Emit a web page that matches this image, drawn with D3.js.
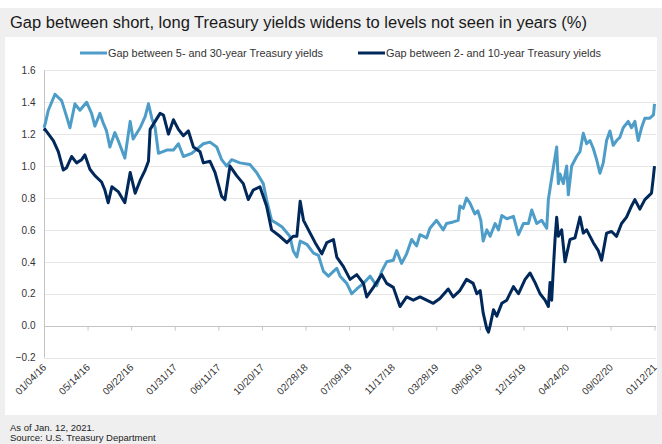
<!DOCTYPE html>
<html>
<head>
<meta charset="utf-8">
<script src="https://cdn.jsdelivr.net/npm/d3@7"></script>
<style>
  body { margin: 0; background: #fff; }
  svg { display: block; font-family: "Liberation Sans", Arial, sans-serif; }
</style>
</head>
<body>
<div id="chart"></div>
<script>
'use strict';

// gap between 5- and 30-year yields (light blue)
const longDates = ['2016-01-04', '2016-01-07', '2016-01-17', '2016-02-06', '2016-02-26', '2016-03-12', '2016-03-22', '2016-04-06', '2016-04-21', '2016-05-11', '2016-05-26', '2016-06-05', '2016-06-20', '2016-06-30', '2016-07-10', '2016-07-20', '2016-08-04', '2016-08-14', '2016-09-03', '2016-09-19', '2016-09-28', '2016-10-19', '2016-11-03', '2016-11-13', '2016-11-23', '2016-12-03', '2016-12-13', '2017-01-07', '2017-01-27', '2017-02-11', '2017-02-26', '2017-03-23', '2017-04-27', '2017-05-17', '2017-06-06', '2017-06-21', '2017-07-06', '2017-07-21', '2017-08-15', '2017-09-14', '2017-10-04', '2017-10-24', '2017-11-03', '2017-11-18', '2017-12-04', '2017-12-19', '2018-01-12', '2018-01-22', '2018-02-02', '2018-02-12', '2018-03-04', '2018-03-24', '2018-04-08', '2018-04-23', '2018-05-08', '2018-05-23', '2018-06-02', '2018-06-12', '2018-07-02', '2018-07-17', '2018-08-01', '2018-08-21', '2018-09-10', '2018-09-30', '2018-10-15', '2018-10-30', '2018-11-19', '2018-11-29', '2018-12-14', '2018-12-29', '2019-01-13', '2019-01-28', '2019-02-07', '2019-02-27', '2019-03-09', '2019-03-29', '2019-04-18', '2019-04-28', '2019-05-18', '2019-06-02', '2019-06-07', '2019-06-17', '2019-06-27', '2019-07-07', '2019-07-22', '2019-07-31', '2019-08-09', '2019-08-16', '2019-08-27', '2019-09-06', '2019-09-21', '2019-10-01', '2019-10-11', '2019-10-26', '2019-11-15', '2019-11-30', '2019-12-15', '2019-12-30', '2020-01-09', '2020-01-24', '2020-02-08', '2020-02-23', '2020-02-28', '2020-03-09', '2020-03-24', '2020-03-29', '2020-04-03', '2020-04-13', '2020-04-23', '2020-04-28', '2020-05-08', '2020-05-23', '2020-06-02', '2020-06-12', '2020-06-22', '2020-07-02', '2020-07-12', '2020-07-22', '2020-08-01', '2020-08-11', '2020-08-21', '2020-08-31', '2020-09-10', '2020-09-20', '2020-09-30', '2020-10-10', '2020-10-25', '2020-11-04', '2020-11-14', '2020-11-24', '2020-12-04', '2020-12-14', '2020-12-29', '2021-01-09', '2021-01-12'];
const longValues = [1.24, 1.26, 1.35, 1.45, 1.41, 1.31, 1.24, 1.39, 1.35, 1.40, 1.33, 1.25, 1.33, 1.27, 1.22, 1.12, 1.21, 1.16, 1.05, 1.28, 1.17, 1.24, 1.31, 1.39, 1.30, 1.24, 1.08, 1.10, 1.10, 1.14, 1.06, 1.08, 1.14, 1.15, 1.12, 1.04, 1.00, 1.04, 1.02, 1.01, 0.96, 0.89, 0.79, 0.66, 0.64, 0.62, 0.56, 0.47, 0.43, 0.53, 0.51, 0.455, 0.44, 0.34, 0.31, 0.34, 0.36, 0.31, 0.265, 0.20, 0.23, 0.265, 0.31, 0.25, 0.34, 0.40, 0.41, 0.47, 0.39, 0.45, 0.54, 0.50, 0.57, 0.55, 0.61, 0.66, 0.60, 0.64, 0.65, 0.66, 0.75, 0.735, 0.80, 0.77, 0.70, 0.72, 0.66, 0.53, 0.60, 0.56, 0.64, 0.60, 0.69, 0.67, 0.685, 0.57, 0.64, 0.64, 0.725, 0.64, 0.66, 0.61, 0.79, 0.925, 1.12, 0.89, 0.95, 0.89, 1.00, 0.82, 1.00, 1.06, 1.09, 1.205, 1.14, 1.16, 1.11, 1.04, 0.955, 1.02, 1.16, 1.22, 1.13, 1.16, 1.18, 1.24, 1.28, 1.24, 1.28, 1.16, 1.24, 1.30, 1.30, 1.32, 1.39];

// gap between 2- and 10-year yields (navy)
const shortDates = ['2016-01-04', '2016-01-07', '2016-02-01', '2016-02-16', '2016-03-02', '2016-03-12', '2016-03-27', '2016-04-11', '2016-04-26', '2016-05-06', '2016-05-21', '2016-06-05', '2016-06-25', '2016-07-05', '2016-07-15', '2016-07-26', '2016-08-14', '2016-09-03', '2016-09-19', '2016-10-04', '2016-10-19', '2016-11-03', '2016-11-13', '2016-11-18', '2016-12-03', '2016-12-18', '2016-12-28', '2017-01-12', '2017-01-27', '2017-02-11', '2017-02-26', '2017-03-13', '2017-03-28', '2017-04-17', '2017-04-27', '2017-05-17', '2017-06-01', '2017-06-21', '2017-07-01', '2017-07-16', '2017-08-05', '2017-08-25', '2017-09-09', '2017-09-24', '2017-10-14', '2017-11-03', '2017-11-18', '2017-12-13', '2018-01-03', '2018-01-22', '2018-02-02', '2018-02-12', '2018-02-22', '2018-03-14', '2018-03-29', '2018-04-18', '2018-05-03', '2018-05-23', '2018-06-02', '2018-06-22', '2018-07-12', '2018-08-01', '2018-08-21', '2018-08-31', '2018-09-20', '2018-10-15', '2018-10-30', '2018-11-19', '2018-12-09', '2018-12-29', '2019-01-18', '2019-02-07', '2019-02-27', '2019-03-19', '2019-04-08', '2019-05-03', '2019-05-18', '2019-06-07', '2019-06-27', '2019-07-17', '2019-07-28', '2019-08-07', '2019-08-16', '2019-08-27', '2019-09-01', '2019-09-06', '2019-09-16', '2019-09-26', '2019-10-11', '2019-10-26', '2019-11-15', '2019-11-30', '2019-12-20', '2020-01-04', '2020-01-19', '2020-02-03', '2020-02-18', '2020-02-28', '2020-03-04', '2020-03-09', '2020-03-14', '2020-03-19', '2020-03-24', '2020-03-29', '2020-04-08', '2020-04-18', '2020-05-03', '2020-05-18', '2020-06-02', '2020-06-12', '2020-06-22', '2020-07-12', '2020-07-27', '2020-08-06', '2020-08-21', '2020-09-05', '2020-09-20', '2020-10-05', '2020-10-20', '2020-11-04', '2020-11-14', '2020-11-29', '2020-12-14', '2020-12-24', '2021-01-03', '2021-01-08', '2021-01-12'];
const shortValues = [1.22, 1.23, 1.16, 1.09, 0.975, 0.99, 1.06, 1.02, 1.04, 1.07, 0.98, 0.94, 0.90, 0.85, 0.77, 0.87, 0.84, 0.77, 0.96, 0.83, 0.91, 0.975, 1.03, 1.23, 1.28, 1.33, 1.32, 1.20, 1.29, 1.23, 1.19, 1.22, 1.12, 1.09, 1.02, 1.03, 0.96, 0.81, 0.79, 1.00, 0.94, 0.89, 0.79, 0.85, 0.87, 0.75, 0.60, 0.56, 0.52, 0.56, 0.56, 0.78, 0.66, 0.58, 0.52, 0.45, 0.52, 0.54, 0.43, 0.37, 0.29, 0.32, 0.265, 0.18, 0.24, 0.32, 0.265, 0.24, 0.12, 0.18, 0.16, 0.18, 0.16, 0.14, 0.17, 0.23, 0.18, 0.22, 0.29, 0.265, 0.20, 0.22, 0.08, -0.02, -0.04, 0.00, 0.10, 0.06, 0.14, 0.16, 0.245, 0.20, 0.29, 0.33, 0.27, 0.20, 0.16, 0.12, 0.27, 0.16, 0.36, 0.54, 0.68, 0.56, 0.60, 0.40, 0.54, 0.55, 0.68, 0.58, 0.60, 0.52, 0.47, 0.41, 0.58, 0.59, 0.56, 0.64, 0.68, 0.75, 0.79, 0.73, 0.79, 0.81, 0.83, 0.92, 1.00];

const seriesNames = ['Gap between 5- and 30-year Treasury yields', 'Gap between 2- and 10-year Treasury yields'];
const seriesColors = ['#4e9dc8', '#00285a'];
const xTickLabels = ['01/04/16', '05/14/16', '09/22/16', '01/31/17', '06/11/17', '10/20/17', '02/28/18', '07/09/18', '11/17/18', '03/28/19', '08/06/19', '12/15/19', '04/24/20', '09/02/20', '01/12/21'];
const yTicks = [-0.2, 0, 0.2, 0.4, 0.6, 0.8, 1.0, 1.2, 1.4, 1.6];

const W = 662, H = 444;
const parse = d3.timeParse('%Y-%m-%d');
const parseTick = d3.timeParse('%m/%d/%y');

const svg = d3.select('#chart').append('svg')
    .attr('width', W)
    .attr('height', H);

// backgrounds: grey title band, white panel, grey footer
svg.append('rect').attr('x', 0).attr('y', 0).attr('width', W).attr('height', H).attr('fill', '#fff');
svg.append('rect').attr('x', 0).attr('y', 8).attr('width', W).attr('height', H - 8).attr('fill', '#efefef');
svg.append('rect').attr('x', 5).attr('y', 37).attr('width', 652).attr('height', 378).attr('fill', '#fff');

svg.append('text')
    .attr('x', 10).attr('y', 28)
    .attr('textLength', 577)
    .attr('lengthAdjust', 'spacingAndGlyphs')
    .style('font-size', '16px')
    .style('fill', '#1a1a1a')
    .text('Gap between short, long Treasury yields widens to levels not seen in years (%)');

const footer = svg.append('g').style('font-size', '9.5px').style('fill', '#222');
footer.append('text').attr('x', 10).attr('y', 431).text('As of Jan. 12, 2021.');
footer.append('text').attr('x', 10).attr('y', 441).text('Source: U.S. Treasury Department');

// scales
const x = d3.scaleTime()
    .domain([parse('2016-01-04'), parse('2021-01-12')])
    .range([44, 654.5]);

const y = d3.scaleLinear()
    .domain([-0.2, 1.6])
    .range([357.6, 70.3]);

// grid lines
svg.append('g')
    .selectAll('line')
    .data(yTicks.filter(d => d !== 0))
  .enter().append('line')
    .attr('x1', 44).attr('x2', 656)
    .attr('y1', d => Math.round(y(d)) + 0.5)
    .attr('y2', d => Math.round(y(d)) + 0.5)
    .attr('stroke', '#e6e6e6');

// y axis
const yAxis = d3.axisLeft(y)
    .tickValues(yTicks)
    .tickFormat(d3.format('.1f'))
    .tickSize(0)
    .tickPadding(9);

const gy = svg.append('g')
    .attr('transform', 'translate(44.5,0)')
    .call(yAxis);
gy.select('.domain').attr('stroke', '#c4c4c4').attr('d', `M0,${y(1.6)}V${y(-0.2)}`);
gy.selectAll('text').style('font-size', '10px').style('fill', '#333').style('font-family', '"Liberation Sans", Arial, sans-serif');

// x axis sits on zero
const tickDates = xTickLabels.map(parseTick);
const xAxis = d3.axisBottom(x)
    .tickValues(tickDates)
    .tickSize(4)
    .tickFormat('');

const gx = svg.append('g')
    .attr('transform', `translate(0,${Math.round(y(0)) + 0.5})`)
    .call(xAxis);
gx.select('.domain').attr('stroke', '#c4c4c4').attr('d', 'M44,0H656');
gx.selectAll('.tick line').attr('stroke', '#c4c4c4');

// rotated tick labels below the plot
svg.append('g')
    .selectAll('text')
    .data(xTickLabels)
  .enter().append('text')
    .attr('transform', (d, i) => `translate(${x(tickDates[i]) + 3},${368}) rotate(-45)`)
    .attr('text-anchor', 'end')
    .style('font-size', '10px')
    .style('fill', '#333')
    .text(d => d);

// lines
const line = d3.line()
    .x(d => x(d.date))
    .y(d => y(d.value));

const series = [
  longDates.map((d, i) => ({ date: parse(d), value: longValues[i] })),
  shortDates.map((d, i) => ({ date: parse(d), value: shortValues[i] }))
];

svg.append('g')
    .selectAll('path')
    .data(series)
  .enter().append('path')
    .attr('d', line)
    .attr('fill', 'none')
    .attr('stroke', (d, i) => seriesColors[i])
    .attr('stroke-width', 3)
    .attr('stroke-linejoin', 'round');

// legend
const legendX = [80, 358];
const legend = svg.append('g')
    .selectAll('g')
    .data(seriesNames)
  .enter().append('g')
    .attr('transform', (d, i) => `translate(${legendX[i]},53)`);

legend.append('line')
    .attr('x1', 0).attr('x2', 27)
    .attr('stroke', (d, i) => seriesColors[i])
    .attr('stroke-width', 3);

legend.append('text')
    .attr('x', 28).attr('y', 4)
    .attr('textLength', 215)
    .attr('lengthAdjust', 'spacingAndGlyphs')
    .style('font-size', '10.5px')
    .style('fill', '#333')
    .text(d => d);
</script>
</body>
</html>
